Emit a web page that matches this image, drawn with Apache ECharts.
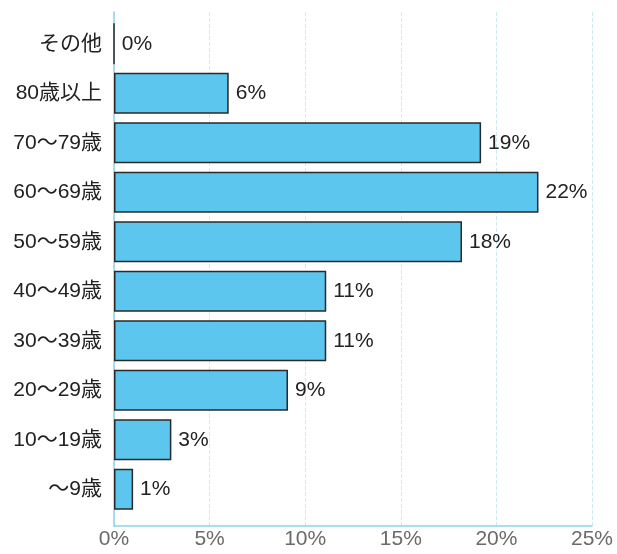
<!DOCTYPE html>
<html><head><meta charset="utf-8">
<script src="https://cdn.jsdelivr.net/npm/echarts@6/dist/echarts.min.js"></script>
<style>html,body{margin:0;padding:0;background:#fff}#c{width:617px;height:554px}</style>
</head><body><div id="c"></div>
<script>
const categories = ['その他','80歳以上','70〜79歳','60〜69歳','50〜59歳','40〜49歳','30〜39歳','20〜29歳','10〜19歳','〜9歳'];
const values = [0, 6.0, 19.2, 22.2, 18.2, 11.1, 11.1, 9.1, 3.0, 1.0];
const labels = ['0%','6%','19%','22%','18%','11%','11%','9%','3%','1%'];
const xTicks = [0, 5, 10, 15, 20, 25];

const font = '"Liberation Sans", "Noto Sans CJK JP", sans-serif';
const axisColor = '#8fd3e8';
const chart = echarts.init(document.getElementById('c'));
chart.setOption({
  animation: false,
  grid: [
    { left: 114, right: 25, top: 19, bottom: 40 },
    { left: 114, right: 25, top: 12, bottom: 28 }
  ],
  xAxis: [{
    gridIndex: 0, type: 'value', min: xTicks[0], max: xTicks[xTicks.length-1], interval: 5,
    axisLine: { show: false }, axisTick: { show: false }, axisLabel: { show: false }, splitLine: { show: false }
  }, {
    gridIndex: 1, type: 'value', min: xTicks[0], max: xTicks[xTicks.length-1], interval: 5,
    axisLine: { show: true, lineStyle: { color: axisColor, width: 1.5 } },
    axisTick: { show: false },
    axisLabel: { formatter: '{value}%', color: '#6a6a6a', fontSize: 21, fontFamily: font, margin: 3 },
    splitLine: { show: true, lineStyle: { color: '#cfe9f2', type: 'dashed', width: 1 } }
  }],
  yAxis: [{
    gridIndex: 0, type: 'category', data: categories, inverse: true,
    axisLine: { show: false },
    axisTick: { show: false },
    axisLabel: { color: '#222', fontSize: 21, fontFamily: font, margin: 12 }
  }, {
    gridIndex: 1, type: 'category', data: categories, inverse: true,
    axisLine: { show: true, lineStyle: { color: axisColor, width: 1.5 } },
    axisTick: { show: false }, axisLabel: { show: false }
  }],
  series: [{
    type: 'bar', xAxisIndex: 0, yAxisIndex: 0, data: values, barCategoryGap: '17%', z: 3,
    itemStyle: { color: '#5cc6ee', borderColor: '#2a2a2a', borderWidth: 1.5 },
    label: { show: true, position: 'right', distance: 7, color: '#222', fontSize: 21, fontFamily: font,
      formatter: p => labels[p.dataIndex] }
  }]
});
</script></body></html>
